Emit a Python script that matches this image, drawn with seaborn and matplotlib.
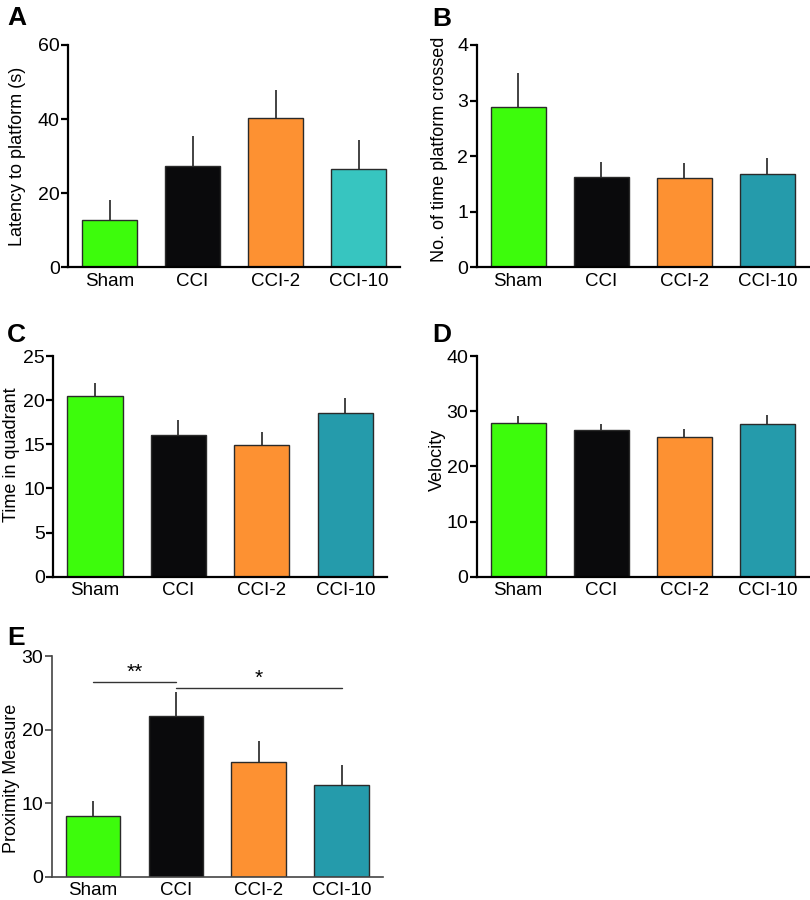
import numpy as np
import pandas as pd
import seaborn as sns
import matplotlib.pyplot as plt

groups = ['Sham', 'CCI', 'CCI-2', 'CCI-10']

latency = [12.8, 27.4, 40.3, 26.5]
latency_err = [5.3, 8.0, 7.6, 7.7]
crossed = [2.88, 1.62, 1.60, 1.67]
crossed_err = [0.62, 0.27, 0.27, 0.29]
quadrant = [20.5, 16.0, 14.9, 18.5]
quadrant_err = [1.5, 1.7, 1.5, 1.7]
velocity = [27.9, 26.6, 25.3, 27.7]
velocity_err = [1.2, 1.1, 1.5, 1.7]
proximity = [8.3, 21.9, 15.6, 12.4]
proximity_err = [2.0, 3.2, 2.9, 2.8]

colors_a = ['#3dfc0c', '#0a0a0c', '#fd9132', '#37c5c0']
colors = ['#3dfc0c', '#0a0a0c', '#fd9132', '#259bab']

sns.set_theme(style='ticks')
plt.rcParams['font.family'] = ['Liberation Sans', 'DejaVu Sans']
plt.rcParams['text.color'] = 'black'
plt.rcParams['axes.labelcolor'] = 'black'
plt.rcParams['xtick.color'] = 'black'
plt.rcParams['ytick.color'] = 'black'

fig = plt.figure(figsize=(8.1, 9), dpi=100)

# letter, axes rect, values, errors, colours, ylabel, ymax, step, ylabel x, ylabel y, letter pos (px)
panels = [
    ('A', [0.084, 0.7033, 0.41, 0.2467], latency, latency_err, colors_a,
     'Latency to platform (s)', 60, 20, -0.127, 0.5, (7, 25)),
    ('B', [0.5885, 0.7033, 0.41, 0.2467], crossed, crossed_err, colors,
     'No. of time platform crossed', 4, 1, -0.086, 0.53, (432, 26)),
    ('C', [0.0658, 0.3592, 0.412, 0.2452], quadrant, quadrant_err, colors,
     'Time in quadrant', 25, 5, -0.100, 0.553, (7, 342)),
    ('D', [0.5885, 0.3592, 0.41, 0.2452], velocity, velocity_err, colors,
     'Velocity', 40, 10, -0.092, 0.53, (432, 342)),
    ('E', [0.0638, 0.0259, 0.409, 0.2452], proximity, proximity_err, colors,
     'Proximity Measure', 30, 10, -0.096, 0.445, (7, 645)),
]

axes = {}
for letter, rect, vals, errs, cols, ylab, ymax, step, lx, ly, lpos in panels:
    ax = fig.add_axes(rect)
    axes[letter] = ax
    df = pd.DataFrame({'group': groups, 'value': vals})
    sns.barplot(data=df, x='group', y='value', hue='group', palette=cols,
                saturation=1, width=0.66, edgecolor='#2a2a2a', linewidth=1.0,
                legend=False, ax=ax, zorder=2)
    ax.errorbar(np.arange(len(groups)), vals, yerr=[np.zeros(len(errs)), errs],
                fmt='none', ecolor='#222222', elinewidth=1.2, capsize=0, zorder=1)
    ax.set_xlim(-0.5, 3.5)
    ax.set_ylim(0, ymax)
    ax.set_yticks(np.arange(0, ymax + step / 2, step))
    ax.set_xlabel('')
    ax.set_ylabel(ylab, fontsize=13)
    ax.yaxis.set_label_coords(lx, ly)
    sns.despine(ax=ax)
    axc = '#444444' if letter == 'E' else 'black'
    lw = 1.2 if letter == 'E' else 1.6
    for s in ['left', 'bottom']:
        ax.spines[s].set_linewidth(lw)
        ax.spines[s].set_color(axc)
    ax.tick_params(axis='y', length=5, width=lw, color=axc, labelsize=14, pad=1)
    ax.tick_params(axis='x', length=0, labelsize=13.5, pad=4)
    fig.text(lpos[0] / 810, 1 - lpos[1] / 900, letter, fontsize=19,
             fontweight='bold', ha='left', va='baseline')

# significance marks on E
axE = axes['E']
axE.plot([0, 1], [26.4, 26.4], color='#333333', lw=1.0)
axE.text(0.5, 26.5, '**', ha='center', va='bottom', fontsize=15)
axE.plot([1, 3], [25.6, 25.6], color='#333333', lw=1.0)
axE.text(2.0, 25.7, '*', ha='center', va='bottom', fontsize=15)

fig.savefig('out.png', dpi=100)
